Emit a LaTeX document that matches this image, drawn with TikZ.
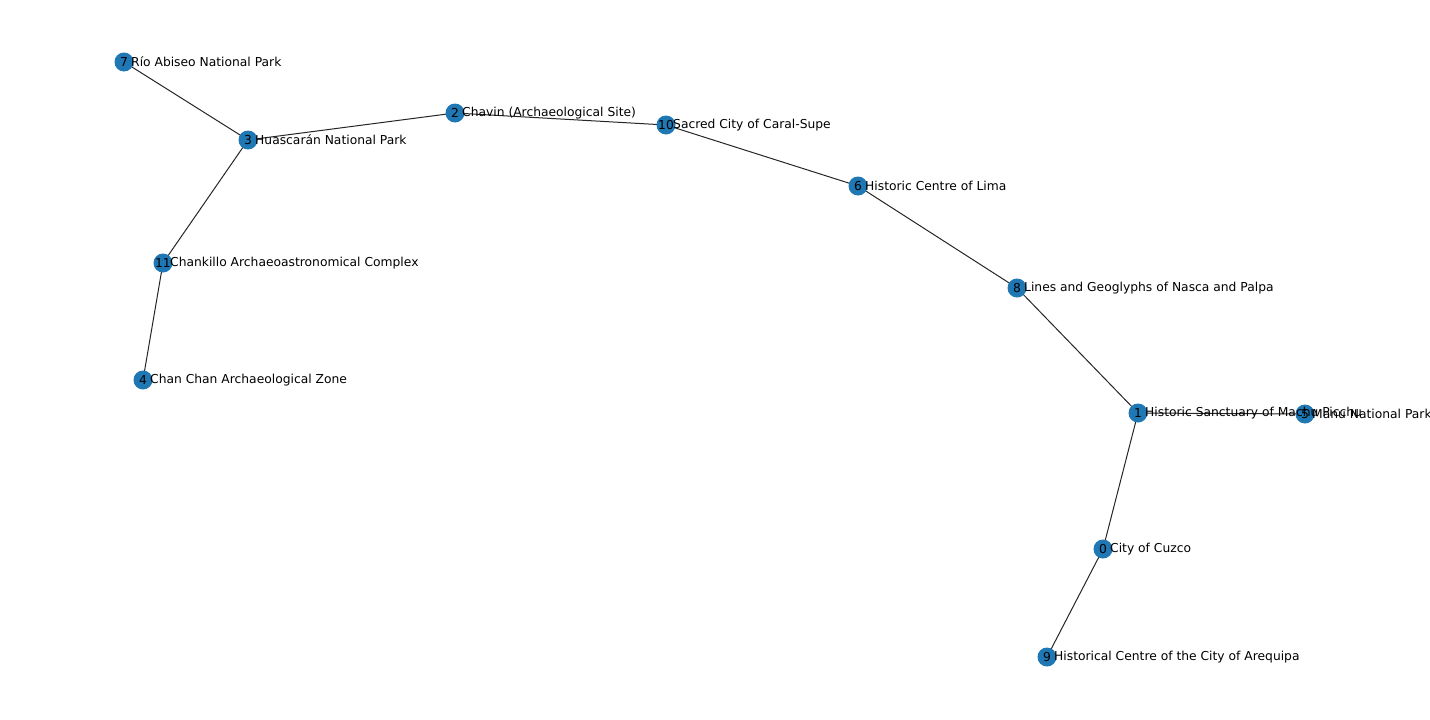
\documentclass[tikz,border=0pt]{standalone}
\usepackage{fontspec}
\setmainfont{DejaVu Sans}
\pgfdeclarelayer{edges}
\pgfdeclarelayer{labels}
\pgfsetlayers{edges,main,labels}
\definecolor{nxblue}{HTML}{1F77B4}
\begin{document}
\begin{tikzpicture}[x=1pt,y=-1pt,
  vertex/.style={circle,fill=nxblue,draw=none,minimum size=19pt,inner sep=0pt},
  link/.style={draw=black!85,line width=1pt},
  num/.style={inner sep=0pt,font=\fontsize{12.3}{14}\selectfont},
  sitename/.style={anchor=west,inner sep=0pt,font=\fontsize{12.3}{14}\selectfont}]
\useasboundingbox (0,0) rectangle (1430,720);
\clip (0,0) rectangle (1430,720);

% vertices
\node[vertex] (n7)  at (124,62)  {};
\node[vertex] (n3)  at (248,140) {};
\node[vertex] (n2)  at (455,113) {};
\node[vertex] (n10) at (666,125) {};
\node[vertex] (n6)  at (858,186) {};
\node[vertex] (n8)  at (1017,288) {};
\node[vertex] (n1)  at (1138,413) {};
\node[vertex] (n5)  at (1305,414) {};
\node[vertex] (n0)  at (1103,549) {};
\node[vertex] (n9)  at (1047,657) {};
\node[vertex] (n11) at (163,263) {};
\node[vertex] (n4)  at (143,380) {};

% edges
\begin{pgfonlayer}{edges}
\draw[link] (n7.center) -- (n3.center);
\draw[link] (n3.center) -- (n2.center);
\draw[link] (n3.center) -- (n11.center);
\draw[link] (n11.center) -- (n4.center);
\draw[link] (n2.center) -- (n10.center);
\draw[link] (n10.center) -- (n6.center);
\draw[link] (n6.center) -- (n8.center);
\draw[link] (n8.center) -- (n1.center);
\draw[link] (n1.center) -- (n5.center);
\draw[link] (n1.center) -- (n0.center);
\draw[link] (n0.center) -- (n9.center);
\end{pgfonlayer}

% labels
\begin{pgfonlayer}{labels}
\foreach \i in {0,...,11} {
  \node[num] (l\i) at (n\i.center) {\i};
}
\node[sitename] (t7)  at ([xshift=7pt]n7.center)  {Río Abiseo National Park};
\node[sitename] (t3)  at ([xshift=7pt]n3.center)  {Huascarán National Park};
\node[sitename] (t2)  at ([xshift=7pt]n2.center)  {Chavin (Archaeological Site)};
\node[sitename] (t10) at ([xshift=7pt]n10.center) {Sacred City of Caral-Supe};
\node[sitename] (t6)  at ([xshift=7pt]n6.center)  {Historic Centre of Lima};
\node[sitename] (t8)  at ([xshift=7pt]n8.center)  {Lines and Geoglyphs of Nasca and Palpa};
\node[sitename] (t1)  at ([xshift=7pt]n1.center)  {Historic Sanctuary of Machu Picchu};
\node[sitename] (t5)  at ([xshift=7pt]n5.center)  {Manu National Park};
\node[sitename] (t0)  at ([xshift=7pt]n0.center)  {City of Cuzco};
\node[sitename] (t9)  at ([xshift=7pt]n9.center)  {Historical Centre of the City of Arequipa};
\node[sitename] (t11) at ([xshift=7pt]n11.center) {Chankillo Archaeoastronomical Complex};
\node[sitename] (t4)  at ([xshift=7pt]n4.center)  {Chan Chan Archaeological Zone};
\end{pgfonlayer}
\end{tikzpicture}
\end{document}
